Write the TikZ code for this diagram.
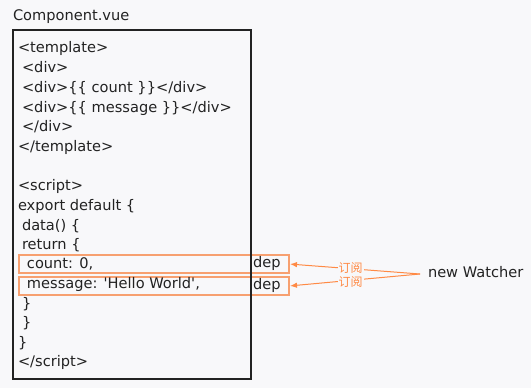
\documentclass[tikz,border=0pt]{standalone}
\usepackage{fontspec}
\setmainfont{DejaVu Sans}
\newfontfamily\cjk{Noto Sans CJK SC}
\usetikzlibrary{arrows.meta}
\definecolor{bg}{HTML}{F8F8FA}
\definecolor{ink}{HTML}{222222}
\definecolor{rowline}{HTML}{F7A070}
\definecolor{subarrow}{HTML}{FF8A45}
\begin{document}
\begin{tikzpicture}[x=1pt,y=-1pt,
  every node/.style={inner sep=0pt, outer sep=0pt},
  codeline/.style={anchor=west, font=\fontsize{14.6}{16}\selectfont, text=ink,
    text height=10.5pt, text depth=3pt},
  filebox/.style={draw=ink, line width=1.4pt, anchor=north west},
  rowbox/.style={draw=rowline, line width=1.1pt, anchor=north west,
    minimum width=270pt, minimum height=18pt},
  subscribe/.style={draw=subarrow, line width=1pt,
    -{Latex[length=7pt,width=5.5pt]}, shorten >=1pt},
  sublabel/.style={font=\cjk\fontsize{12}{12}\selectfont, text=subarrow,
    fill=bg, inner xsep=1pt, inner ysep=0pt, text height=8.8pt, text depth=1pt}]
\fill[bg] (0,0) rectangle (531,388);
\useasboundingbox (0,0) rectangle (531,388);

% file name
\node[codeline] (title) at (13,17) {Component.vue};

% highlighted data rows with their dep
\node[rowbox] (r1) at (19,255) {};
\node[rowbox] (r2) at (19,277) {};

% source file frame
\node[filebox, minimum width=238pt, minimum height=349pt] (file) at (13,30) {};

% source lines
\node[codeline] (l1)  at (18,49)    {<template>};
\node[codeline] (l2)  at (22,69)    {<div>};
\node[codeline] (l3)  at (22,89)    {<div>\{\{ count \}\}</div>};
\node[codeline] (l4)  at (22,108.5) {<div>\{\{ message \}\}</div>};
\node[codeline] (l5)  at (22,128)   {</div>};
\node[codeline] (l6)  at (18,148)   {</template>};
\node[codeline] (l7)  at (18,187)   {<script>};
\node[codeline] (l8)  at (18,207)   {export default \{};
\node[codeline] (l9)  at (22,226.5) {data() \{};
\node[codeline] (l10) at (22,246)   {return \{};
\node[codeline] (l11) at (27,265)   {count: 0,};
\node[codeline] (l12) at (27,285)   {message: \textquotesingle Hello World\textquotesingle,};
\node[codeline] (l13) at (22,304.5) {\}};
\node[codeline] (l14) at (22,324)   {\}};
\node[codeline] (l15) at (18,343.5) {\}};
\node[codeline] (l16) at (18,363)   {</script>};

% dependency markers
\node[codeline] (d1) at (253,264) {dep};
\node[codeline] (d2) at (253,286) {dep};

% watcher subscribing to both deps (canvas yshift: positive is upward)
\node[codeline] (nw) at (428,274) {new Watcher};
\coordinate (src) at ([xshift=-8pt]nw.west);
\draw[subscribe] (src) -- node[sublabel, pos=0.53, yshift=0.5pt] {订阅} (r1.east);
\draw[subscribe] (src) -- node[sublabel, pos=0.53, yshift=-2pt] {订阅} (r2.east);
\end{tikzpicture}
\end{document}
